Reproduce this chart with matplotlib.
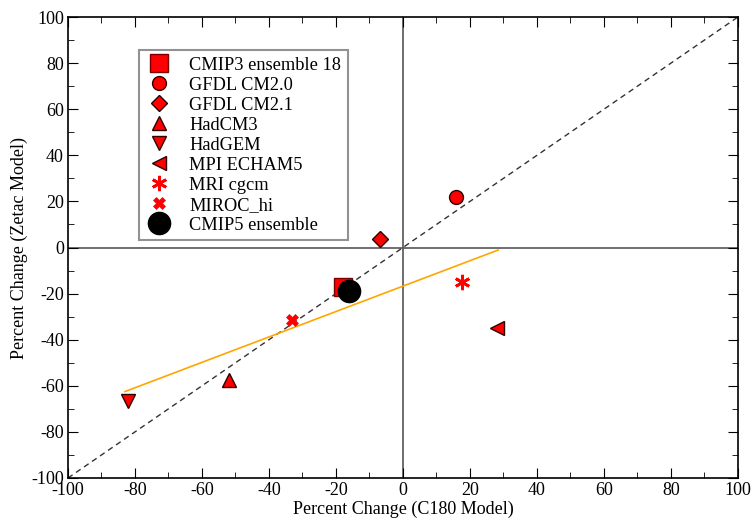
import matplotlib
matplotlib.use("Agg")
import matplotlib.pyplot as plt
from matplotlib.ticker import MultipleLocator

plt.rcParams['font.family'] = ['Liberation Serif', 'DejaVu Serif']
plt.rcParams['axes.unicode_minus'] = False

labels = ["CMIP3 ensemble 18", "GFDL CM2.0", "GFDL CM2.1", "HadCM3", "HadGEM",
          "MPI ECHAM5", "MRI cgcm", "MIROC_hi", "CMIP5 ensemble"]
x_vals = [-18, 15.7, -6.8, -52, -82, 28, 17.5, -33, -16]
y_vals = [-17, 21.8, 3.7, -57.5, -66.5, -35, -14.8, -31.5, -19]
markers = ["s", "o", "D", "^", "v", "<", (6, 2, 0), "X", "o"]
sizes = [13, 10, 8, 10, 10, 10, 11, 9, 16]
faces = ["red"] * 8 + ["black"]
edges = ["#7a0000", "#300000", "#300000", "#300000", "#300000", "#300000", "red", "red", "black"]

fit_x = [-83, 28.4]
fit_y = [-62.5, -1.1]
diag = [-100, 100]

fig = plt.figure(figsize=(7.53, 5.22), dpi=100)
ax = fig.add_axes([0.0903, 0.0843, 0.8897, 0.8831])

ax.axhline(0, color="#555555", lw=1.2, zorder=1)
ax.axvline(0, color="#555555", lw=1.2, zorder=1)
ax.plot(diag, diag, ls=(0, (4, 3)), color="#333333", lw=1.0, zorder=2)
ax.plot(fit_x, fit_y, color="orange", lw=1.2, zorder=2)

for lab, x, y, m, s, fc, ec in zip(labels, x_vals, y_vals, markers, sizes, faces, edges):
    mew = 1.0
    if lab == "MRI cgcm":
        mew = 2.0
    if lab == "MIROC_hi":
        mew = 0.5
    ax.plot([x], [y], ls="none", marker=m, ms=s, mfc=fc, mec=ec, mew=mew,
            label=lab, zorder=3)

ax.set_xlim(-100, 100)
ax.set_ylim(-100, 100)
ax.xaxis.set_major_locator(MultipleLocator(20))
ax.yaxis.set_major_locator(MultipleLocator(20))
ax.xaxis.set_minor_locator(MultipleLocator(10))
ax.yaxis.set_minor_locator(MultipleLocator(10))
ax.tick_params(which="both", direction="in", top=True, right=True, labelsize=13, pad=3)
ax.tick_params(which="major", length=7)
ax.tick_params(which="minor", length=4)
for sp in ax.spines.values():
    sp.set_linewidth(1.2)

ax.set_xlabel("Percent Change (C180 Model)", fontsize=13, labelpad=1)
ax.set_ylabel("Percent Change (Zetac Model)", fontsize=13, labelpad=2)

leg = ax.legend(loc="upper left", bbox_to_anchor=(0.106, 0.928), borderaxespad=0,
                fontsize=13.2, frameon=True, fancybox=False, edgecolor="#777777",
                handletextpad=0.9, labelspacing=0.165, borderpad=0.35,
                handlelength=1.5, markerscale=1.0)
leg.get_frame().set_linewidth(1.5)

fig.savefig("out.png", dpi=100)
